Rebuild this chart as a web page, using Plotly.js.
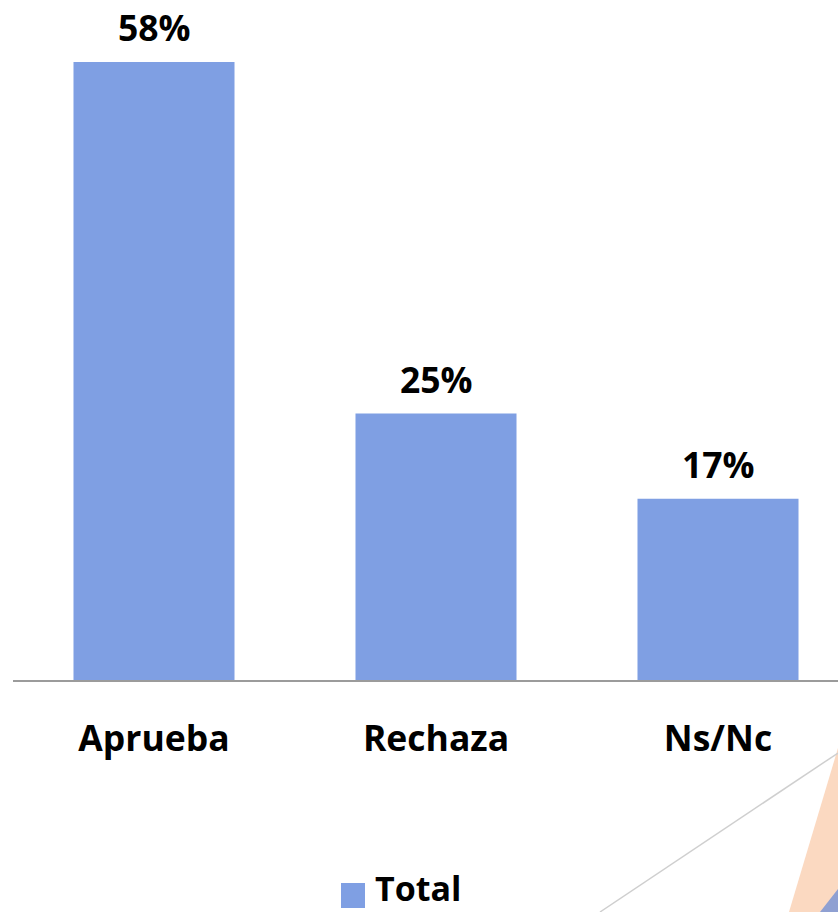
<!DOCTYPE html>
<html>
<head>
<meta charset="utf-8">
<script src="https://cdn.plot.ly/plotly-3.0.1.min.js"></script>
<style>html,body{margin:0;padding:0;background:#fff;}#chart{width:838px;height:912px;}</style>
</head>
<body>
<div id="chart"></div>
<script>
var categories = ['Aprueba', 'Rechaza', 'Ns/Nc'];
var values = [58, 25, 17];
var valueLabels = ['58%', '25%', '17%'];
var seriesName = 'Total';

var W = 838, H = 912;
var plotL = 13, plotR = 838, plotT = 0, plotB = 680;
function px(x) { return (x - plotL) / (plotR - plotL); }
function py(y) { return (plotB - y) / (plotB - plotT); }

var font = {family: 'Open Sans, sans-serif', size: 35.5, color: '#000', weight: 'bold'};
var legendFont = {family: 'Open Sans, sans-serif', size: 34, color: '#000', weight: 'bold'};
var barColor = '#7F9FE3';

var trace = {
  type: 'bar',
  x: [0, 1, 2],
  y: values,
  width: 0.571,
  name: seriesName,
  marker: {color: barColor},
  showlegend: false,
  hoverinfo: 'skip'
};

var annotations = values.map(function (v, i) {
  return {x: i, y: v, xref: 'x', yref: 'y', text: valueLabels[i], showarrow: false,
    yanchor: 'bottom', yshift: 9, font: font};
});
annotations.push({x: px(374), y: py(912), xref: 'paper', yref: 'paper', text: seriesName,
  showarrow: false, xanchor: 'left', yanchor: 'bottom', borderpad: 0, font: legendFont});

var shapes = [
  {type: 'path', xref: 'paper', yref: 'paper', line: {width: 0}, fillcolor: '#FBD9C1',
   path: 'M ' + px(789) + ' ' + py(912) + ' L ' + px(838) + ' ' + py(748) + ' L ' + px(838) + ' ' + py(912) + ' Z'},
  {type: 'path', xref: 'paper', yref: 'paper', line: {width: 0}, fillcolor: '#8FA0D2',
   path: 'M ' + px(820) + ' ' + py(912) + ' L ' + px(838) + ' ' + py(889) + ' L ' + px(838) + ' ' + py(912) + ' Z'},
  {type: 'line', xref: 'paper', yref: 'paper', x0: px(600), y0: py(912), x1: px(838), y1: py(753),
   line: {color: '#CFCFCF', width: 1.5}},
  {type: 'rect', xref: 'paper', yref: 'paper', x0: px(341), y0: py(908), x1: px(365), y1: py(883),
   line: {width: 0}, fillcolor: barColor}
];

var layout = {
  width: W, height: H,
  margin: {l: plotL, r: W - plotR, t: plotT, b: H - plotB, pad: 0},
  paper_bgcolor: '#fff', plot_bgcolor: '#fff',
  showlegend: false,
  xaxis: {
    range: [-0.5, -0.5 + (plotR - plotL) / 282],
    tickvals: [0, 1, 2], ticktext: categories,
    showgrid: false, zeroline: false,
    showline: true, linecolor: '#9B9B9B', linewidth: 2,
    ticks: '', ticklabelstandoff: 26,
    tickfont: font, fixedrange: true
  },
  yaxis: {
    range: [0, (plotB - plotT) / ((680 - 62) / 58)],
    visible: false, showgrid: false, zeroline: false, fixedrange: true
  },
  annotations: annotations,
  shapes: shapes
};

Plotly.newPlot('chart', [trace], layout, {staticPlot: true, displayModeBar: false});
</script>
</body>
</html>
